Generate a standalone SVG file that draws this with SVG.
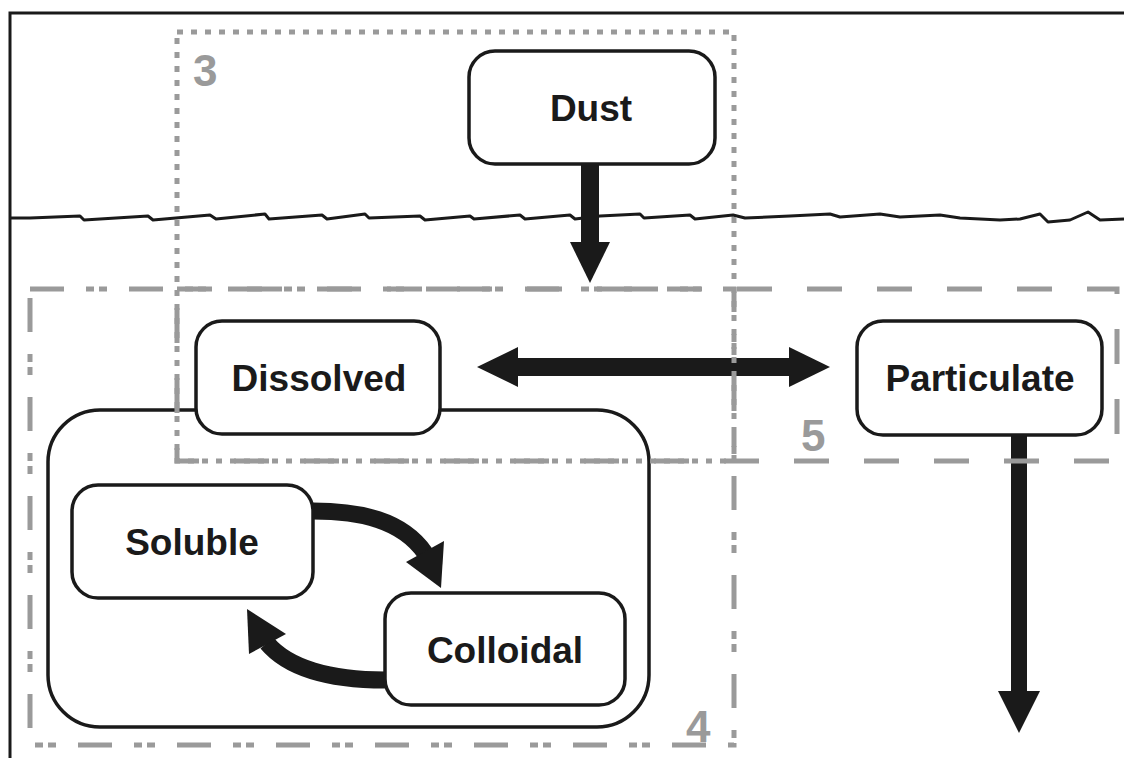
<svg xmlns="http://www.w3.org/2000/svg" width="1124" height="758" viewBox="0 0 1124 758">
<defs>
<style>
.node{fill:#fff;stroke:#1a1a1a;stroke-width:3.5}
.lbl{font-family:"Liberation Sans",Arial,sans-serif;font-weight:bold;font-size:37px;fill:#1a1a1a;text-anchor:middle}
.num{font-family:"Liberation Sans",Arial,sans-serif;font-weight:bold;font-size:44px;fill:#9a9a9a}
.reg{fill:none;stroke:#9a9a9a;stroke-width:5}
.shaft{fill:none;stroke:#1a1a1a;stroke-width:17}
.head{fill:#1a1a1a}
</style>
</defs>
<rect width="1124" height="758" fill="#fff"/>
<path d="M10,770 V13 H1130" fill="none" stroke="#1a1a1a" stroke-width="3"/>
<path id="water" d="M10,218 L30,218 L80,216 L84,220 L148,216 L153,220 L210,215 L216,219 L265,214 L269,219 L322,215 L327,219 L365,214 L369,218 L420,216 L425,220 L470,216 L474,219 L520,215 L525,219 L570,215 L575,219 L600,216 L640,214 L644,218 L690,215 L695,219 L733,215 L745,218 L790,216 L830,214 L840,217 L880,214 L900,217 L940,215 L960,218 L1000,220 L1020,219 L1040,214 L1048,222 L1070,220 L1088,212 L1100,220 L1124,219" fill="none" stroke="#1a1a1a" stroke-width="3" stroke-linejoin="round"/>
<g id="dissolved-pool">
<rect x="48" y="410" width="601" height="317" rx="52" fill="#fff" stroke="#1a1a1a" stroke-width="3.5"/>
</g>
<g id="connectors">
<rect x="581" y="164" width="18" height="80" class="head"/>
<polygon points="570,242 610,242 590,283" class="head"/>
<rect x="515" y="358" width="276" height="18" class="head"/>
<polygon points="477,367 518,347 518,387" class="head"/>
<polygon points="830,367 789,347 789,387" class="head"/>
<rect x="1011" y="434" width="16" height="260" class="head"/>
<polygon points="998,691 1040,691 1019,733" class="head"/>
<path d="M313,511 C360,511 402,520 425,553" class="shaft"/>
<polygon points="441,588 406,562 444,541" class="head"/>
<path d="M385,680 C330,680 288,668 267,643" class="shaft"/>
<polygon points="247,609 249,654 286,634" class="head"/>
</g>
<g id="regions">
<rect x="177" y="32" width="557" height="429" class="reg" stroke-dasharray="6 8"/>
<rect x="177" y="289" width="940" height="172" class="reg" stroke-dasharray="35 35"/>
<rect x="30" y="289" width="704" height="456" class="reg" stroke-dasharray="34 22 8 5 8 22"/>
<text x="193" y="86" class="num">3</text>
<text x="801" y="451" class="num">5</text>
<text x="686" y="742" class="num">4</text>
</g>
<g id="dust"><rect x="469" y="51" width="246" height="113" rx="26" class="node"/><text x="591" y="121" class="lbl">Dust</text></g>
<g id="dissolved"><rect x="196" y="321" width="244" height="113" rx="26" class="node"/><text x="319" y="391" class="lbl">Dissolved</text></g>
<g id="particulate"><rect x="857" y="321" width="245" height="114" rx="26" class="node"/><text x="980" y="391" class="lbl">Particulate</text></g>
<g id="soluble"><rect x="72" y="485" width="241" height="113" rx="26" class="node"/><text x="192" y="555" class="lbl">Soluble</text></g>
<g id="colloidal"><rect x="385" y="593" width="240" height="112" rx="26" class="node"/><text x="505" y="663" class="lbl">Colloidal</text></g>
</svg>
